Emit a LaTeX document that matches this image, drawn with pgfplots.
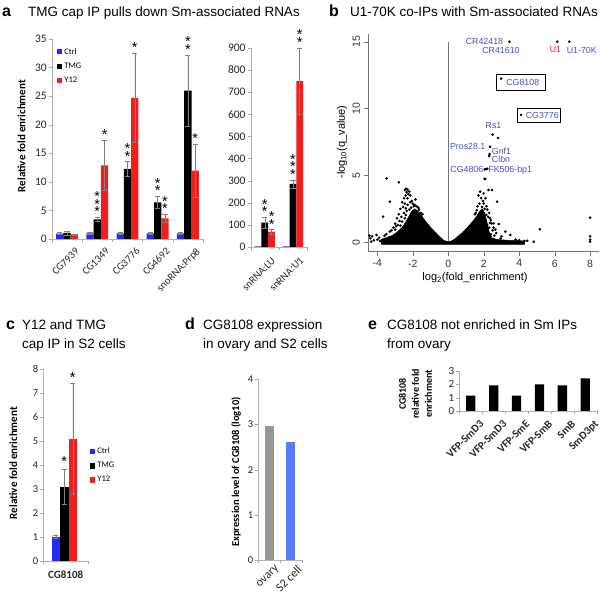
\documentclass[border=0pt]{standalone}
\usepackage{pgfplots}
\pgfplotsset{compat=1.18}
\usepackage{fontspec}
\setmainfont{Liberation Sans}
\newfontfamily\calf{Carlito}
\definecolor{ctrlblue}{RGB}{40,40,245}
\definecolor{y12red}{RGB}{240,30,30}
\definecolor{lblblue}{RGB}{75,75,200}
\definecolor{dgray}{RGB}{150,150,150}
\definecolor{dblue}{RGB}{90,125,245}
\pgfplotsset{
  excel/.style={
    scale only axis, clip=false, anchor=south west,
    axis x line*=bottom, axis y line*=left,
    axis line style={draw=black!30,-},
    tick align=outside,
    every tick/.append style={black!35},
    major tick length=3pt, minor tick length=3.5pt,
    every major x tick/.append style={draw=none},
    /pgf/number format/assume math mode=true,
    ticklabel style={font=\calf\fontsize{10.5}{12}\selectfont, text=black!85},
    yticklabel style={inner sep=2pt},
    ybar=0pt,
  },
  eb/.style={error bars/y dir=both, error bars/y explicit,
    error bars/error bar style={black!50, line width=0.5pt},
    error bars/error mark options={rotate=90, black!50, mark size=2.6pt, line width=0.5pt}},
  sqleg/.style={legend image code/.code={\fill[##1] (0pt,-2.6pt) rectangle (5.2pt,2.6pt);}},
}
\tikzset{
  ttl/.style={anchor=base west, inner sep=0pt, font=\fontsize{13.5}{16}\selectfont},
  plet/.style={anchor=base west, inner sep=0pt, font=\bfseries\fontsize{16}{18}\selectfont},
  stars/.style={align=center, inner sep=0pt, anchor=south, font={\fontsize{14.5}{7.5}\selectfont\lineskiplimit=-20pt}},
  blab/.style={inner sep=0pt, text=lblblue, font=\fontsize{8.8}{10}\selectfont},
}
\begin{document}
\begin{tikzpicture}[x=1pt,y=1pt]
\path[use as bounding box] (0,0) rectangle (600,597);
% ---------------- titles
\node[plet] at (2,580) {a};
\node[ttl] at (28,580) {TMG cap IP pulls down Sm-associated RNAs};
\node[plet] at (329,580) {b};
\node[ttl] at (350,580) {U1-70K co-IPs with Sm-associated RNAs};
\node[plet] at (6,267) {c};
\node[ttl] at (22,267) {Y12 and TMG};
\node[ttl] at (22,248.7) {cap IP in S2 cells};
\node[plet] at (185,267) {d};
\node[ttl] at (203,267) {CG8108 expression};
\node[ttl] at (203,248.7) {in ovary and S2 cells};
\node[plet] at (368,267) {e};
\node[ttl] at (387,267) {CG8108 not enriched in Sm IPs};
\node[ttl] at (387,248.7) {from ovary};
% ---------------- panel a
\node[rotate=90, font=\calf\bfseries\fontsize{11}{12}\selectfont] at (21.5,461) {Relative fold enrichment};
\begin{scope}
\clip (0,306) rectangle (330,597);
\begin{axis}[excel, at={(52pt,358pt)}, width=151pt, height=200pt,
  xmin=-0.5, xmax=4.5, ymin=0, ymax=35, ytick={0,5,...,35},
  yticklabel style={font=\calf\fontsize{11.5}{12}\selectfont},
  xtick={0,...,4}, xticklabels={CG7939,CG1349,CG3776,CG4692,snoRNA:Prp8},
  minor xtick={-0.5,0.5,...,4.5},
  xticklabel style={rotate=45, anchor=north east, inner sep=1pt, xshift=3pt, yshift=-8pt},
  bar width=7.3pt, sqleg,
  legend style={at={(0.033,0.965)}, anchor=north west, draw=none, fill=none,
    font=\calf\fontsize{8.5}{10}\selectfont, row sep=3pt, inner sep=0pt},
  legend cell align=left]
\addplot[fill=ctrlblue, draw=none, eb] coordinates {(0,0.95)+-(0,0.2) (1,1.0)+-(0,0.2) (2,1.0)+-(0,0.2) (3,1.0)+-(0,0.1) (4,1.0)+-(0,0.25)};
\addplot[fill=black, draw=none, eb] coordinates {(0,1.05)+-(0,0.35) (1,3.45)+-(0,0.35) (2,12.25)+-(0,1.3) (3,6.4)+-(0,1.0) (4,25.95)+-(0,6.25)};
\addplot[fill=y12red, draw=none, eb] coordinates {(0,0.8)+-(0,0.1) (1,12.9)+-(0,4.4) (2,24.7)+-(0,7.8) (3,3.6)+-(0,0.7) (4,11.95)+-(0,4.6)};
\legend{Ctrl,TMG,Y12}
\node[stars] at (axis cs:1,3.9) {*\\*\\*};
\node[stars] at (axis cs:1.2417,17.4) {*};
\node[stars] at (axis cs:2,13.6) {*\\*};
\node[stars] at (axis cs:2.2417,32.6) {*};
\node[stars] at (axis cs:3,7.5) {*\\*};
\node[stars] at (axis cs:3.2417,4.4) {*\\*};
\node[stars] at (axis cs:4,32.3) {*\\*};
\node[stars] at (axis cs:4.2417,16.6) {*};
\end{axis}
\begin{axis}[excel, at={(250.7pt,350pt)}, width=56.3pt, height=199pt,
  xmin=-0.5, xmax=1.5, ymin=0, ymax=900, ytick={0,100,...,900},
  yticklabel style={font=\calf\fontsize{11.5}{12}\selectfont},
  xtick={0,1}, xticklabels={snRNA:LU,snRNA:U1},
  minor xtick={-0.5,0.5,1.5},
  xticklabel style={rotate=45, anchor=north east, inner sep=1pt, xshift=1pt, yshift=-8pt},
  bar width=6.8pt]
\addplot[fill=ctrlblue, draw=none] coordinates {(0,3) (1,3)};
\addplot[fill=black, draw=none, eb] coordinates {(0,110)+-(0,25) (1,285)+-(0,18)};
\addplot[fill=y12red, draw=none, eb] coordinates {(0,68)+-(0,10) (1,750)+-(0,150)};
\node[stars] at (axis cs:0,137) {*\\*};
\node[stars] at (axis cs:0.2416,80) {*\\*};
\node[stars] at (axis cs:1,305) {*\\*\\*};
\node[stars] at (axis cs:1.2416,902) {*\\*};
\end{axis}
\end{scope}
% ---------------- panel b
\node[rotate=90, font=\fontsize{11}{13}\selectfont] at (342,455) {-log\textsubscript{10}(q\_value)};
\node[font=\fontsize{11}{13}\selectfont] at (475,319.3) {log\textsubscript{2}(fold\_enrichment)};
\begin{axis}[scale only axis, anchor=south west, at={(368pt,345.3pt)}, width=231pt, height=218pt,
  xmin=-4.53, xmax=8.5, ymin=-0.7, ymax=15.6, clip=false,
  axis x line*=bottom, axis y line*=left, axis line style={black!55,-},
  every tick/.append style={black!55}, tick align=outside, major tick length=4.5pt,
  xtick={-4,-2,...,8}, ytick={0,5,10,15},
  yticklabel style={rotate=90, anchor=south},
  ticklabel style={font=\fontsize{10.5}{12}\selectfont, text=black!80},
  /pgf/number format/assume math mode=true]
\addplot[black!55, line width=0.6pt] coordinates {(0,0) (0,15)};
\addplot[fill=black, draw=black, line width=0.5pt] coordinates {
(-3.8,-0.15) (4.3,-0.15) (4.3,0.1) (3.4,0.15) (2.7,0.22) (2.45,0.35) (2.3,0.8) (2.18,1.5) (2.05,2.2) (1.92,2.5) (1.78,2.35) (1.6,1.95) (1.4,1.6) (1.2,1.3) (1.0,1.0) (0.75,0.68) (0.5,0.4) (0.25,0.14) (0,0.03) (-0.25,0.14) (-0.5,0.44) (-0.75,0.78) (-1.0,1.12) (-1.25,1.52) (-1.5,1.98) (-1.72,2.35) (-1.9,2.5) (-2.08,2.3) (-2.3,1.75) (-2.55,1.2) (-2.85,0.8) (-3.15,0.52) (-3.5,0.35) (-3.8,0.22)};
\addplot[only marks, mark=*, mark size=1.1pt, black] coordinates {
(-3.48,4.79) (-2.79,4.49) (-3.3,3.04) (-3.68,1.92)
(-4.45,0.5) (-4.4,0.3) (-4.3,0.45) (-4.2,0.15) (-4.05,0.55) (-4.0,0.2) (-3.9,0.35) (-3.85,0.1) (-4.35,0.05)
(-2.45,3.9) (-2.4,4.0) (-2.35,3.75) (-2.3,3.95) (-2.25,3.6) (-2.2,3.8) (-2.15,3.5) (-2.4,3.5) (-2.5,3.3) (-2.3,3.3)
(-2.6,3.0) (-2.45,2.9) (-2.3,2.8) (-2.15,3.0) (-2.0,2.9) (-1.95,2.7) (-2.1,2.6) (-2.55,2.65) (-2.7,2.5) (-2.4,2.55)
(-2.8,2.1) (-2.9,1.8) (-2.75,1.6) (-3.0,1.4) (-2.65,1.9) (-2.5,2.2) (-2.35,2.35) (-2.2,2.45) (-3.1,1.1) (-2.95,1.2) (-3.3,0.8) (-3.5,0.6) (-3.6,0.5) (-3.2,0.9) (-2.85,1.3)
(-1.8,2.7) (-1.7,2.6) (-1.65,2.45) (-1.9,2.8) (-2.05,3.1) (-1.85,3.2)
(-2.6,1.55) (-2.45,1.8) (-2.7,1.25) (-2.4,2.05) (-3.0,0.95) (-1.55,2.2) (-1.45,2.1)
(2.08,4.74) (1.8,3.79) (1.99,3.66) (2.27,3.91) (2.46,3.91) (2.75,3.04) (1.7,3.5) (1.85,3.3) (1.95,3.1) (2.1,3.3) (2.0,2.9) (2.15,2.7) (1.75,2.9) (2.2,2.45) (1.65,2.7) (2.3,2.2) (2.05,2.5) (1.9,2.65) (2.35,1.8) (2.25,1.9) (2.45,1.4) (2.3,1.1) (2.5,0.9) (2.4,0.6) (2.6,0.5) (2.56,1.42) (2.84,1.37) (3.22,0.8) (3.5,0.55) (2.95,0.3) (4.45,0.12) (4.82,0.05) (5.16,0.97) (8.0,1.84) (8.0,0.45) (8.0,0.2) (8.0,0.05) (3.8,0.2) (4.0,0.15) (4.3,0.1) (3.0,0.45) (2.7,0.7) (2.2,1.3) (2.15,2.05) (1.6,2.4) (1.55,2.2)
(2.4,1.65) (2.55,1.1) (2.35,1.45) (2.65,0.95) (1.5,2.1)
(3.45,15) (6.15,15) (6.83,15) (2.98,12.24) (4.1,9.52) (2.5,8.05) (2.8,7.8) (2.35,7.15) (2.33,6.6) (2.3,6.45) (2.05,5.45) (2.12,5.47) (2.2,5.5) (2.05,4.75)};
\node[blab, anchor=east] at (axis cs:3.1,15) {CR42418};
\node[blab] at (axis cs:2.97,14.38) {CR41610};
\node[blab, text=y12red] at (axis cs:6.04,14.38) {U1};
\node[blab] at (axis cs:7.53,14.38) {U1-70K};
\draw[black, line width=0.8pt] (axis cs:2.73,11.39) rectangle (axis cs:5.46,12.59);
\node[blab] at (axis cs:4.2,11.97) {CG8108};
\draw[black, line width=0.8pt] (axis cs:3.9,8.95) rectangle (axis cs:6.3,10.02);
\node[blab] at (axis cs:5.3,9.47) {CG3776};
\node[blab] at (axis cs:2.55,8.7) {Rs1};
\node[blab, anchor=east] at (axis cs:2.1,7.2) {Pros28.1};
\node[blab, anchor=west] at (axis cs:2.45,6.8) {Gnf1};
\node[blab, anchor=west] at (axis cs:2.45,6.22) {Clbn};
\node[blab, anchor=east] at (axis cs:1.98,5.42) {CG4806};
\node[blab, anchor=west] at (axis cs:2.25,5.42) {FK506-bp1};
\end{axis}
% ---------------- panel c
\node[rotate=90, font=\calf\bfseries\fontsize{11}{12}\selectfont] at (13.3,134) {Relative fold enrichment};
\begin{axis}[excel, at={(43.3pt,36pt)}, width=44.7pt, height=192pt,
  xmin=-0.5, xmax=0.5, ymin=0, ymax=8, ytick={0,...,8},
  xtick={0}, xticklabels={CG8108}, minor xtick={-0.5,0.5},
  xticklabel style={font=\calf\bfseries\fontsize{11}{12}\selectfont, yshift=-3pt},
  bar width=8.5pt, sqleg,
  legend style={at={(1.045,0.6)}, anchor=north west, draw=none, fill=none,
    font=\calf\fontsize{8.5}{10}\selectfont, row sep=3pt, inner sep=0pt},
  legend cell align=left]
\addplot[fill=ctrlblue, draw=none, eb] coordinates {(-0.03,1.0)+-(0,0.07)};
\addplot[fill=black, draw=none, eb] coordinates {(-0.03,3.1)+-(0,0.72)};
\addplot[fill=y12red, draw=none, eb] coordinates {(-0.03,5.1)+-(0,2.3)};
\legend{Ctrl,TMG,Y12}
\node[stars] at (axis cs:-0.03,3.95) {*};
\node[stars] at (axis cs:0.16,7.45) {*};
\end{axis}
% ---------------- panel d
\node[rotate=90, font=\calf\bfseries\fontsize{10.5}{12}\selectfont] at (236,125) {Expression level of CG8108 (log10)};
\begin{axis}[excel, at={(258.3pt,37pt)}, width=43.4pt, height=180.7pt,
  xmin=-0.5, xmax=1.5, ymin=0, ymax=4, ytick={0,...,4},
  xtick={0,1}, xticklabels={ovary,S2 cell}, minor xtick={-0.5,0.5,1.5},
  xticklabel style={rotate=45, anchor=north east, inner sep=1pt, font=\calf\fontsize{12}{13}\selectfont, xshift=4pt, yshift=-4pt},
  bar width=9pt]
\addplot[fill=dgray, draw=none, bar shift=0pt] coordinates {(0,2.97)};
\addplot[fill=dblue, draw=none, bar shift=0pt] coordinates {(1,2.62)};
\end{axis}
% ---------------- panel e
\node[rotate=90, align=center, font=\calf\bfseries\fontsize{10}{13}\selectfont] at (415.5,203) {CG8108\\relative fold\\enrichment};
\begin{axis}[excel, at={(459.3pt,186pt)}, width=137.4pt, height=40pt,
  xmin=-0.5, xmax=5.5, ymin=0, ymax=3, ytick={0,...,3},
  yticklabel style={font=\calf\fontsize{11}{12}\selectfont},
  xtick={0,...,5}, xticklabels={VFP-SmD3,VFP-SmD3,VFP-SmE,VFP-SmB,SmB,SmD3pt},
  minor xtick={-0.5,0.5,...,5.5},
  xticklabel style={rotate=45, anchor=north east, inner sep=1pt, xshift=3pt, yshift=-9pt, font=\calf\bfseries\fontsize{11}{12}\selectfont},
  bar width=9.3pt]
\addplot[fill=black, draw=none, bar shift=0pt] coordinates {(0,1.15) (1,1.93) (2,1.15) (3,2.0) (4,1.93) (5,2.45)};
\end{axis}
\end{tikzpicture}
\end{document}
